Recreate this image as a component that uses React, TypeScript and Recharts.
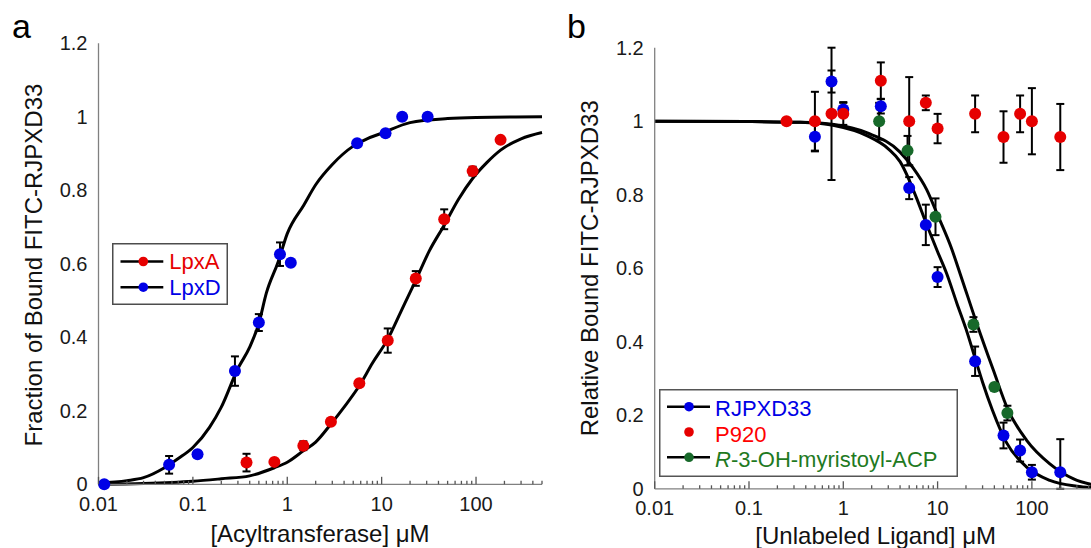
import { ComposedChart, ErrorBar, Label, Legend, Line, Scatter, XAxis, YAxis } from 'recharts'

const FONT = '"Liberation Sans", Arial, Helvetica, sans-serif'
const RED = '#e60000'
const BLUE = '#0000e6'
const GREEN = '#17692a'
const AXIS = '#808080'

// shared log axis ticks (µM)
const xTicks = [
  0.01, 0.02, 0.03, 0.04, 0.05, 0.06, 0.07, 0.08, 0.09,
  0.1, 0.2, 0.3, 0.4, 0.5, 0.6, 0.7, 0.8, 0.9,
  1, 2, 3, 4, 5, 6, 7, 8, 9,
  10, 20, 30, 40, 50, 60, 70, 80, 90,
  100, 200, 300, 400, 500,
]
const majorTicks = [0.01, 0.1, 1, 10, 100]
const yTicks = [0, 0.2, 0.4, 0.6, 0.8, 1, 1.2]

// panel a – measured points
const lpxAPoints = [
  { x: 0.37, y: 0.059, err: 0.024 },
  { x: 0.73, y: 0.061, err: 0 },
  { x: 1.48, y: 0.105, err: 0.012 },
  { x: 2.9, y: 0.17, err: 0 },
  { x: 5.8, y: 0.275, err: 0 },
  { x: 11.6, y: 0.391, err: 0.033 },
  { x: 23, y: 0.56, err: 0.02 },
  { x: 46, y: 0.721, err: 0.027 },
  { x: 92, y: 0.852, err: 0.012 },
  { x: 182, y: 0.937, err: 0 },
]
const lpxDPoints = [
  { x: 0.0115, y: 0, err: 0 },
  { x: 0.056, y: 0.053, err: 0.024 },
  { x: 0.112, y: 0.082, err: 0 },
  { x: 0.279, y: 0.308, err: 0.04 },
  { x: 0.5, y: 0.44, err: 0.023 },
  { x: 0.837, y: 0.626, err: 0.032 },
  { x: 1.09, y: 0.603, err: 0 },
  { x: 5.5, y: 0.928, err: 0 },
  { x: 11, y: 0.955, err: 0 },
  { x: 16.5, y: 1.0, err: 0 },
  { x: 30.7, y: 1.0, err: 0 },
]
// panel a – fitted curves
const lpxAFit = [
  { x: 0.01, y: 0 }, { x: 0.03, y: 0.002 }, { x: 0.1, y: 0.008 }, { x: 0.2, y: 0.015 },
  { x: 0.4, y: 0.023 }, { x: 0.73, y: 0.045 }, { x: 1, y: 0.06 }, { x: 1.48, y: 0.091 },
  { x: 2, y: 0.115 }, { x: 2.9, y: 0.164 }, { x: 4, y: 0.21 }, { x: 5.8, y: 0.268 },
  { x: 8, y: 0.33 }, { x: 11.6, y: 0.395 }, { x: 16, y: 0.47 }, { x: 23, y: 0.555 },
  { x: 32, y: 0.635 }, { x: 46, y: 0.705 }, { x: 65, y: 0.775 }, { x: 92, y: 0.832 },
  { x: 130, y: 0.875 }, { x: 182, y: 0.909 }, { x: 300, y: 0.94 }, { x: 500, y: 0.957 },
]
const lpxDFit = [
  { x: 0.01, y: 0.004 }, { x: 0.02, y: 0.01 }, { x: 0.03, y: 0.018 }, { x: 0.05, y: 0.045 },
  { x: 0.07, y: 0.07 }, { x: 0.1, y: 0.1 }, { x: 0.15, y: 0.155 }, { x: 0.2, y: 0.21 },
  { x: 0.3, y: 0.315 }, { x: 0.4, y: 0.373 }, { x: 0.5, y: 0.438 }, { x: 0.6, y: 0.52 },
  { x: 0.8, y: 0.605 }, { x: 1, y: 0.682 }, { x: 1.5, y: 0.76 }, { x: 2, y: 0.815 },
  { x: 3, y: 0.87 }, { x: 5, y: 0.92 }, { x: 7, y: 0.94 }, { x: 10, y: 0.955 },
  { x: 20, y: 0.984 }, { x: 50, y: 0.995 }, { x: 100, y: 0.998 }, { x: 500, y: 1.0 },
]

// panel b – measured points
const rjpxd33Points = [
  { x: 0.5, y: 0.958, err: 0.04 },
  { x: 0.75, y: 1.108, err: 0.03 },
  { x: 1, y: 1.032, err: 0.02 },
  { x: 2.5, y: 1.041, err: 0.02 },
  { x: 5, y: 0.818, err: 0.03 },
  { x: 7.5, y: 0.718, err: 0.055 },
  { x: 10, y: 0.576, err: 0.027 },
  { x: 25, y: 0.347, err: 0.04 },
  { x: 50, y: 0.145, err: 0.035 },
  { x: 75, y: 0.104, err: 0.03 },
  { x: 100, y: 0.045, err: 0.02 },
  { x: 200, y: 0.045, err: [0.045, 0.09] },
]
const p920Points = [
  { x: 0.25, y: 1.0, err: 0 },
  { x: 0.5, y: 1.0, err: 0.08 },
  { x: 0.75, y: 1.02, err: 0.18 },
  { x: 1, y: 1.02, err: 0.03 },
  { x: 2.5, y: 1.11, err: 0.05 },
  { x: 5, y: 1.0, err: 0.12 },
  { x: 7.5, y: 1.05, err: 0.02 },
  { x: 10, y: 0.98, err: 0.04 },
  { x: 25, y: 1.02, err: 0.05 },
  { x: 50, y: 0.957, err: 0.07 },
  { x: 75, y: 1.02, err: 0.05 },
  { x: 100, y: 1.0, err: 0.09 },
  { x: 200, y: 0.957, err: 0.09 },
]
const acpPoints = [
  { x: 2.4, y: 1.0, err: 0.05 },
  { x: 4.8, y: 0.92, err: 0.04 },
  { x: 9.5, y: 0.74, err: 0.05 },
  { x: 24, y: 0.447, err: 0.02 },
  { x: 40, y: 0.277, err: 0 },
  { x: 55, y: 0.206, err: 0.02 },
]
// panel b – fitted curves
const rjpxd33Fit = [
  { x: 0.01, y: 1.0 }, { x: 0.1, y: 0.999 }, { x: 0.35, y: 0.997 }, { x: 0.8, y: 0.988 },
  { x: 1.8, y: 0.96 }, { x: 3, y: 0.925 }, { x: 4, y: 0.89 }, { x: 5, y: 0.84 },
  { x: 6, y: 0.79 }, { x: 7.5, y: 0.725 }, { x: 10, y: 0.645 }, { x: 12.5, y: 0.585 },
  { x: 16, y: 0.505 }, { x: 20, y: 0.435 }, { x: 25, y: 0.355 }, { x: 30, y: 0.29 },
  { x: 38, y: 0.215 }, { x: 54, y: 0.125 }, { x: 88, y: 0.059 }, { x: 155, y: 0.023 },
  { x: 300, y: 0.007 }, { x: 500, y: 0.002 },
]
const acpFit = [
  { x: 0.01, y: 1.0 }, { x: 0.1, y: 0.999 }, { x: 0.35, y: 0.997 }, { x: 0.8, y: 0.991 },
  { x: 1.8, y: 0.968 }, { x: 4, y: 0.916 }, { x: 5.5, y: 0.873 }, { x: 7.66, y: 0.814 },
  { x: 10, y: 0.745 }, { x: 14, y: 0.655 }, { x: 17.3, y: 0.586 }, { x: 26, y: 0.45 },
  { x: 39, y: 0.323 }, { x: 56, y: 0.214 }, { x: 88, y: 0.132 }, { x: 155, y: 0.068 },
  { x: 277, y: 0.027 }, { x: 500, y: 0.008 },
]

const legendA = [
  { name: 'LpxA', color: RED, line: true },
  { name: 'LpxD', color: BLUE, line: true },
]
const legendB = [
  { name: 'RJPXD33', color: BLUE, text: BLUE, line: true },
  { name: 'P920', color: RED, text: '#ff0000', line: false },
  { name: '-3-OH-myristoyl-ACP', italic: 'R', color: GREEN, text: '#1f7a1f', line: true },
]

function LogTick(props: any) {
  const { x, y, payload } = props
  const major = majorTicks.includes(payload.value)
  return (
    <g>
      <line x1={x} x2={x} y1={y} y2={y - (major ? 7.5 : 3.5)} stroke="#555" strokeWidth={1.3} />
      {major ? (
        <text x={x} y={y + 12} dy="0.72em" textAnchor="middle" fontSize={20} fontFamily={FONT} fill="#1a1a1a">
          {String(payload.value)}
        </text>
      ) : null}
    </g>
  )
}

const dot = (fill: string) => (p: any) => <circle cx={p.cx} cy={p.cy} r={6} fill={fill} />

function errBar() {
  return <ErrorBar dataKey="err" direction="y" width={4} stroke="#000" strokeWidth={2} />
}

function titleText(x: number, y: number, text: string, rotate = false) {
  return (
    <text
      x={x}
      y={y}
      textAnchor="middle"
      fontSize={24}
      fontFamily={FONT}
      fill="#111"
      transform={rotate ? `rotate(-90 ${x} ${y})` : undefined}
    >
      {text}
    </text>
  )
}

function PanelA() {
  return (
    <ComposedChart width={560} height={548} margin={{ top: 43.2, right: 18, bottom: 0, left: 0 }}>
      <XAxis dataKey="x" type="number" scale="log" domain={[0.01, 500]} ticks={xTicks} interval={0}
        tick={<LogTick />} tickLine={false} tickSize={0} tickMargin={0} height={63.7} stroke={AXIS} strokeWidth={1.3}>
        <Label content={() => titleText(320, 542, '[Acyltransferase] μM')} />
      </XAxis>
      <YAxis type="number" domain={[0, 1.2]} ticks={yTicks} interval={0} tickLine={false} tickSize={6} tickMargin={5}
        width={98.5} stroke={AXIS} strokeWidth={1.3} tick={{ fontSize: 20, fontFamily: FONT, fill: '#1a1a1a' }}>
        <Label content={() => (
          <g>
            {titleText(41.5, 265, 'Fraction of Bound FITC-RJPXD33', true)}
            <text x={12} y={38} fontSize={34} fontFamily={FONT} fill="#000">a</text>
          </g>
        )} />
      </YAxis>
      <Line data={lpxAFit} dataKey="y" type="monotone" dot={false} stroke="#000" strokeWidth={3} isAnimationActive={false} legendType="none" />
      <Line data={lpxDFit} dataKey="y" type="monotone" dot={false} stroke="#000" strokeWidth={3} isAnimationActive={false} legendType="none" />
      <Scatter name="LpxA" data={lpxAPoints} dataKey="y" fill={RED} shape={dot(RED)} isAnimationActive={false}>
        {errBar()}
      </Scatter>
      <Scatter name="LpxD" data={lpxDPoints} dataKey="y" fill={BLUE} shape={dot(BLUE)} isAnimationActive={false}>
        {errBar()}
      </Scatter>
      <Legend layout="vertical" align="center" verticalAlign="middle"
        wrapperStyle={{ left: 112, top: 242.5, width: 116, height: 62 }}
        content={() => (
          <svg width={116} height={62} style={{ display: 'block' }}>
            <rect x={0.75} y={0.75} width={114.5} height={60.5} fill="#fff" stroke="#4d4d4d" strokeWidth={1.5} />
            {legendA.map((it, i) => {
              const cy = 18.5 + i * 25.7
              return (
                <g key={it.name}>
                  <line x1={8.5} x2={51.3} y1={cy} y2={cy} stroke="#000" strokeWidth={2.5} />
                  <circle cx={31.3} cy={cy} r={4.8} fill={it.color} />
                  <text x={57.3} y={cy + 7.5} fontSize={22} fontFamily={FONT} fill={it.color}>{it.name}</text>
                </g>
              )
            })}
          </svg>
        )}
      />
    </ComposedChart>
  )
}

function PanelB() {
  return (
    <ComposedChart width={560} height={548} margin={{ top: 47.7, right: 7.2, bottom: 0, left: 0 }}>
      <XAxis dataKey="x" type="number" scale="log" domain={[0.01, 500]} ticks={xTicks} interval={0}
        tick={<LogTick />} tickLine={false} tickSize={0} tickMargin={0} height={59.2} stroke={AXIS} strokeWidth={1.3}>
        <Label content={() => titleText(330.7, 544, '[Unlabeled Ligand] μM')} />
      </XAxis>
      <YAxis type="number" domain={[0, 1.2]} ticks={yTicks} interval={0} tickLine={false} tickSize={6} tickMargin={5}
        width={109.7} stroke={AXIS} strokeWidth={1.3} tick={{ fontSize: 20, fontFamily: FONT, fill: '#1a1a1a' }}>
        <Label content={() => (
          <g>
            {titleText(53.5, 268.3, 'Relative Bound FITC-RJPXD33', true)}
            <text x={22} y={38} fontSize={34} fontFamily={FONT} fill="#000">b</text>
          </g>
        )} />
      </YAxis>
      <Line data={rjpxd33Fit} dataKey="y" type="monotone" dot={false} stroke="#000" strokeWidth={3} isAnimationActive={false} legendType="none" />
      <Line data={acpFit} dataKey="y" type="monotone" dot={false} stroke="#000" strokeWidth={3} isAnimationActive={false} legendType="none" />
      <Scatter name="RJPXD33" data={rjpxd33Points} dataKey="y" fill={BLUE} shape={dot(BLUE)} isAnimationActive={false}>
        {errBar()}
      </Scatter>
      <Scatter name="ACP" data={acpPoints} dataKey="y" fill={GREEN} shape={dot(GREEN)} isAnimationActive={false}>
        {errBar()}
      </Scatter>
      <Scatter name="P920" data={p920Points} dataKey="y" fill={RED} shape={dot(RED)} isAnimationActive={false}>
        {errBar()}
      </Scatter>
      <Legend layout="vertical" align="center" verticalAlign="middle"
        wrapperStyle={{ left: 114, top: 389, width: 299, height: 88 }}
        content={() => (
          <svg width={299} height={88} style={{ display: 'block' }}>
            <rect x={0.75} y={0.75} width={297.5} height={86.5} fill="#fff" stroke="#555" strokeWidth={1.5} />
            {legendB.map((it, i) => {
              const cy = 17.7 + i * 25.3
              return (
                <g key={it.name}>
                  {it.line ? <line x1={8} x2={51} y1={cy} y2={cy} stroke="#000" strokeWidth={2.5} /> : null}
                  <circle cx={30} cy={cy} r={4.8} fill={it.color} />
                  <text x={56} y={cy + 9.5} fontSize={22} fontFamily={FONT} fill={it.text}>
                    {it.italic ? <tspan fontStyle="italic">{it.italic}</tspan> : null}
                    {it.name}
                  </text>
                </g>
              )
            })}
          </svg>
        )}
      />
    </ComposedChart>
  )
}

export default function App() {
  return (
    <div style={{ position: 'absolute', left: 0, top: 0, width: 1091, height: 548, overflow: 'hidden', background: '#fff' }}>
      <div style={{ position: 'absolute', left: 0, top: 0 }}>
        <PanelA />
      </div>
      <div style={{ position: 'absolute', left: 545, top: 0 }}>
        <PanelB />
      </div>
    </div>
  )
}
